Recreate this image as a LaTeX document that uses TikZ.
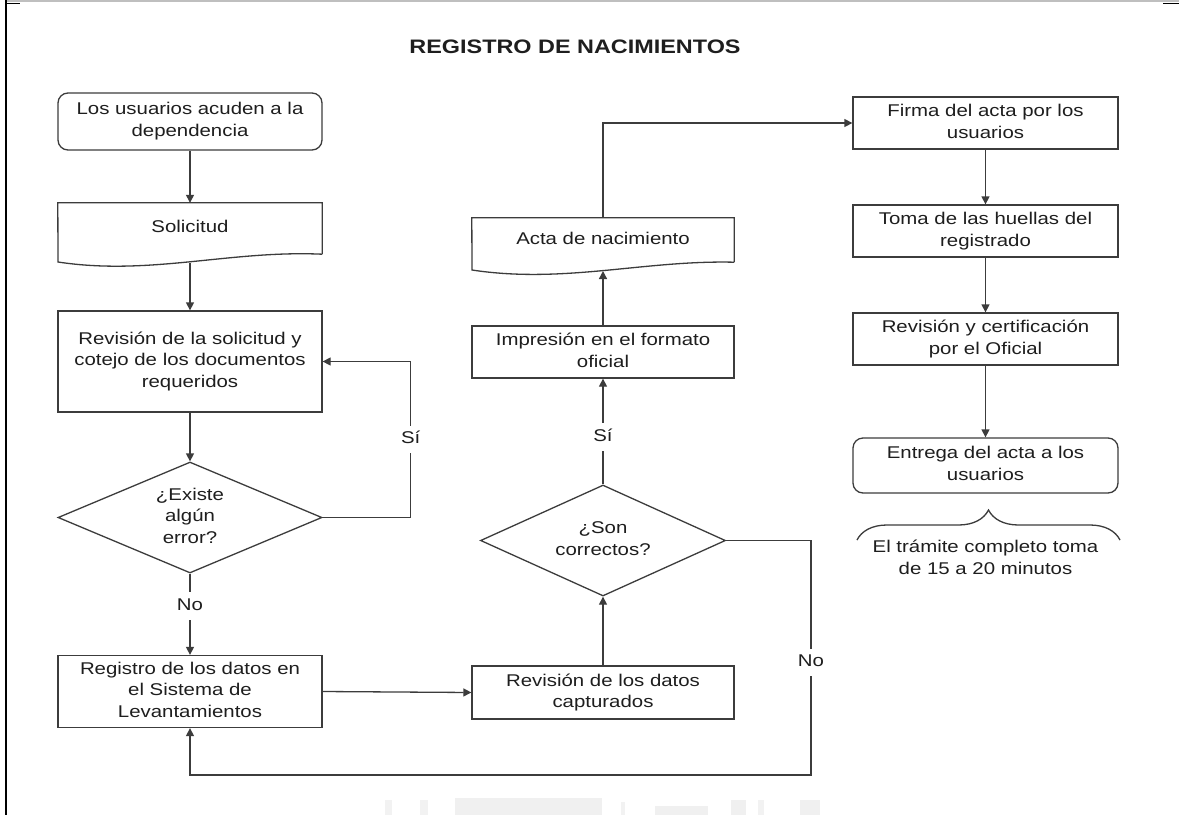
\documentclass[tikz,border=0pt]{standalone}
\usepackage{graphicx}
\usepackage{fontspec}
\setmainfont{Liberation Sans}
\usetikzlibrary{arrows.meta,shapes.geometric,decorations.pathreplacing}
\definecolor{linec}{HTML}{3C3C3C}
\definecolor{textc}{HTML}{1E1E1E}
\newcommand{\fsize}{\fontsize{17}{21.7}\selectfont}
\newcommand{\ft}[1]{\scalebox{1.2}[1]{\begin{tabular}{@{}c@{}}#1\end{tabular}}}

\begin{document}
\begin{tikzpicture}[x=1pt,y=-1pt,
  every node/.style={font=\fsize, text=textc, inner sep=0pt},
  box/.style={draw=linec, line width=1.3pt, rectangle, minimum width=264pt},
  rbox/.style={box, rounded corners=10pt},
  doc/.style={rectangle, minimum width=264pt},
  decision/.style={draw=linec, line width=1.3pt, diamond, aspect=2.4},
  arr/.style={draw=linec, line width=1.3pt, -{Triangle[length=8pt,width=8pt]}},
  link/.style={draw=linec, line width=1.3pt},
  tag/.style={fill=white, inner sep=3pt},
]
% page
\fill[white] (0,0) rectangle (1179,815);
\useasboundingbox (0,0) rectangle (1179,815);

% frame of the surrounding table
\draw[black, line width=2pt] (6,0) -- (6,815);
\draw[black!25, line width=1.5pt] (7,1) -- (1179,1);
\draw[black, line width=1.2pt] (6,3.5) -- (20,3.5);
\draw[black, line width=1.2pt] (1163,3.5) -- (1179,3.5);

% faint marks along the lower edge
\fill[black!6] (455,798) rectangle (602,815);
\fill[black!5] (385,800) rectangle (392,815);
\fill[black!5] (420,800) rectangle (428,815);
\fill[black!5] (621,802) rectangle (625,815);
\fill[black!6] (655,806) rectangle (708,815);
\fill[black!6] (731,800) rectangle (746,815);
\fill[black!5] (758,800) rectangle (764,815);
\fill[black!6] (800,800) rectangle (820,815);

% title
\node (title) at (575,47) {\fontsize{19.5}{22}\selectfont\bfseries\scalebox{1.2}[1]{REGISTRO DE NACIMIENTOS}};

% left column
\node[rbox, minimum height=57pt] (llegada) at (190,121.5) {\ft{Los usuarios acuden a la\\dependencia}};
\node[doc, minimum height=51pt] (sol) at (190,228.5) {\ft{Solicitud}};
\draw[link] (sol.south east) -- (sol.north east) -- (sol.north west) -- (58,262)
  .. controls (150,276) and (230,250) .. (sol.south east);
\coordinate (solb) at (190,262.5);
\node[box, minimum height=101pt] (rev) at (190,361.5) {\ft{Revisión de la solicitud y\\cotejo de los documentos\\requeridos}};
\node[decision, minimum width=264pt, minimum height=111pt] (err) at (190,517.5) {\ft{¿Existe\\algún\\error?}};
\node[box, minimum height=72pt] (reg) at (190,691.5) {\ft{Registro de los datos en\\el Sistema de\\Levantamientos}};

% middle column
\node[box, minimum width=262pt, minimum height=53pt] (capt) at (603,692.5) {\ft{Revisión de los datos\\capturados}};
\node[decision, minimum width=245pt, minimum height=111pt] (ok) at (603,540.5) {\ft{¿Son\\correctos?}};
\node[box, minimum width=262pt, minimum height=52pt] (imp) at (603,352) {\ft{Impresión en el formato\\oficial}};
\node[doc, minimum width=262pt, minimum height=44pt] (acta) at (603,240) {\ft{Acta de nacimiento}};
\draw[link] (acta.south east) -- (acta.north east) -- (acta.north west) -- (472,270)
  .. controls (564,284) and (644,260) .. (acta.south east);
\coordinate (actab) at (603,271);

% right column
\node[box, minimum width=265pt, minimum height=52pt] (firma) at (985.5,123) {\ft{Firma del acta por los\\usuarios}};
\node[box, minimum width=265pt, minimum height=52pt] (toma) at (985.5,231) {\ft{Toma de las huellas del\\registrado}};
\node[box, minimum width=265pt, minimum height=52pt] (cert) at (985.5,339) {\ft{Revisión y certificación\\por el Oficial}};
\node[rbox, minimum width=265pt, minimum height=55pt] (entrega) at (985.5,465.5) {\ft{Entrega del acta a los\\usuarios}};
\draw[link, decorate, decoration={brace, amplitude=30pt}] (857,540) -- (1120,540);
\node (nota) at (985.5,559) {\ft{El trámite completo toma\\de 15 a 20 minutos}};

% connectors
\draw[arr] (llegada) -- (sol);
\draw[arr] (solb) -- (rev);
\draw[arr] (rev) -- (err);
\draw[arr] (err.east) -- ++(88,0) |- node[tag, pos=0.25] {\ft{Sí}} (rev.east);
\draw[arr] (err.south) -- node[tag, pos=0.4] {\ft{No}} (reg.north);
\draw[arr] (reg.east) -- (capt.west);
\draw[arr] (capt.north) -- (ok.south);
\draw[arr] (ok.north) -- node[tag, pos=0.45] {\ft{Sí}} (imp.south);
\draw[arr] (imp.north) -- (actab);
\draw[arr] (acta.north) |- (firma.west);
\draw[arr] (firma) -- (toma);
\draw[arr] (toma) -- (cert);
\draw[arr] (cert) -- (entrega);
\coordinate (vuelta) at (811,775);
\draw[arr] (ok.east) -| node[tag, pos=0.76] {\ft{No}} (vuelta) -| (reg.south);
\end{tikzpicture}
\end{document}
